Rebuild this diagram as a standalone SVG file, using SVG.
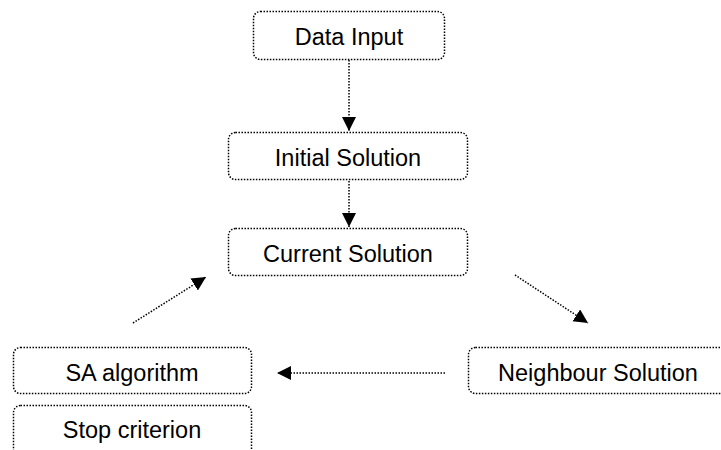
<svg xmlns="http://www.w3.org/2000/svg" width="721" height="450" viewBox="0 0 721 450">
<style>
.box{fill:#fff;stroke:#000;stroke-width:1.5;stroke-dasharray:1.5 1.5;}
.lbl{font-family:"Liberation Sans",Arial,sans-serif;font-size:23.5px;fill:#000;text-anchor:middle;}
.edge{fill:none;stroke:#000;stroke-width:1.5;stroke-dasharray:1.5 1.5;}
</style>
<defs>
<marker id="arr" markerUnits="userSpaceOnUse" markerWidth="15" markerHeight="15" refX="14" refY="7" orient="auto">
<path d="M0,0 L14,7 L0,14 Z" fill="#000"/>
</marker>
</defs>
<rect width="721" height="450" fill="#fff"/>
<g id="connectors">
<line class="edge" x1="349" y1="60" x2="349" y2="131" marker-end="url(#arr)"/>
<line class="edge" x1="349" y1="181" x2="349" y2="227" marker-end="url(#arr)"/>
<line class="edge" x1="133" y1="323" x2="206" y2="277" marker-end="url(#arr)"/>
<line class="edge" x1="515" y1="275" x2="588" y2="323" marker-end="url(#arr)"/>
<line class="edge" x1="445" y1="373" x2="277" y2="373" marker-end="url(#arr)"/>
</g>
<g id="data-input">
<rect class="box" x="253.5" y="11.5" width="191" height="48" rx="7"/>
<text class="lbl" x="349" y="45">Data Input</text>
</g>
<g id="initial-solution">
<rect class="box" x="228.5" y="132.5" width="239" height="47" rx="7"/>
<text class="lbl" x="348" y="166">Initial Solution</text>
</g>
<g id="current-solution">
<rect class="box" x="228.5" y="228.5" width="239" height="47" rx="7"/>
<text class="lbl" x="348" y="262">Current Solution</text>
</g>
<g id="neighbour-solution">
<rect class="box" x="468.5" y="347.5" width="270" height="46" rx="7"/>
<text class="lbl" x="598" y="381">Neighbour Solution</text>
</g>
<g id="sa-algorithm">
<rect class="box" x="13.5" y="347.5" width="238" height="46" rx="7"/>
<text class="lbl" x="132" y="381">SA algorithm</text>
</g>
<g id="stop-criterion">
<rect class="box" x="13.5" y="405.5" width="238" height="60" rx="7"/>
<text class="lbl" x="132" y="438">Stop criterion</text>
</g>
</svg>
